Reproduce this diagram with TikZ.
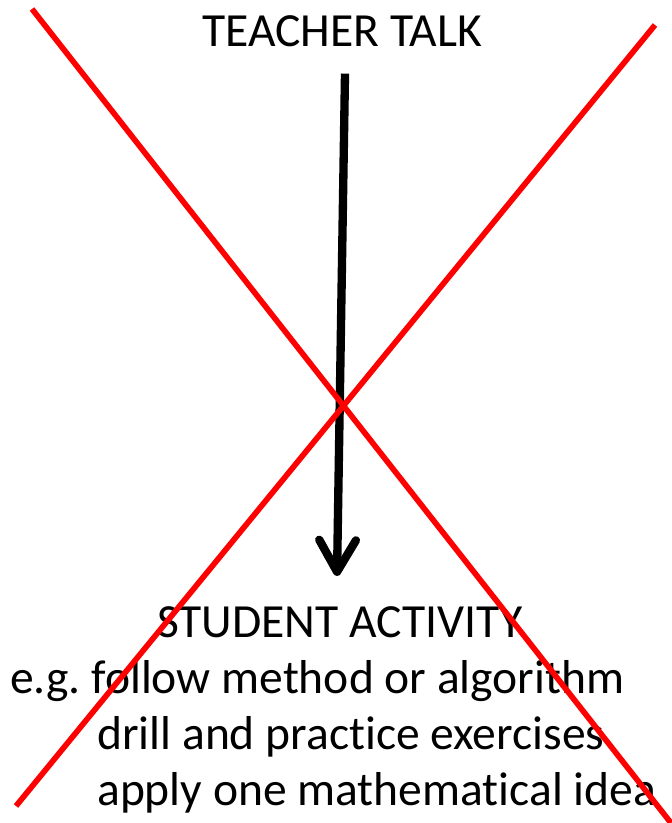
\documentclass[tikz,border=0pt]{standalone}
\usepackage{fontspec}
\setmainfont{Carlito}[Ligatures={NoCommon}]
\usepackage{tikz}
\usetikzlibrary{arrows.meta}
\usetikzlibrary{positioning}
\frenchspacing

\begin{document}
\begin{tikzpicture}[x=0.03cm, y=-0.03cm,
        bigtext/.style={inner sep=0pt, font=\fontsize{40.6}{48}\selectfont},
        crossline/.style={red, line width=0.17cm}]
        \useasboundingbox (0,0) rectangle (671,823);
        \node[bigtext, anchor=base] (talk) at (342,47) {TEACHER TALK};
        \node[bigtext, anchor=base] (activity) at (340,637) {STUDENT ACTIVITY};
        \node[bigtext, anchor=base west] (follow) at (10,693) {e.g. follow method or algorithm};
        \node[bigtext, anchor=base west] (drill) at (97,749) {drill and practice exercises};
        \node[bigtext, anchor=base west] (apply) at (97,805) {apply one mathematical idea};
        % teacher talk leads down to activity
        \draw [line width=0.25cm, -{Straight Barb[length=0.95cm, width=1.1cm, line cap=round, line join=round]}]
            ([xshift=0.09cm, yshift=-0.78cm]talk.south) -- ([xshift=-0.09cm, yshift=0.9cm]activity.north);
        % crossed out
        \draw[crossline] (32,9) -- (671,823);
        \draw[crossline] (655,25) -- (16,806);
\end{tikzpicture}
\end{document}
